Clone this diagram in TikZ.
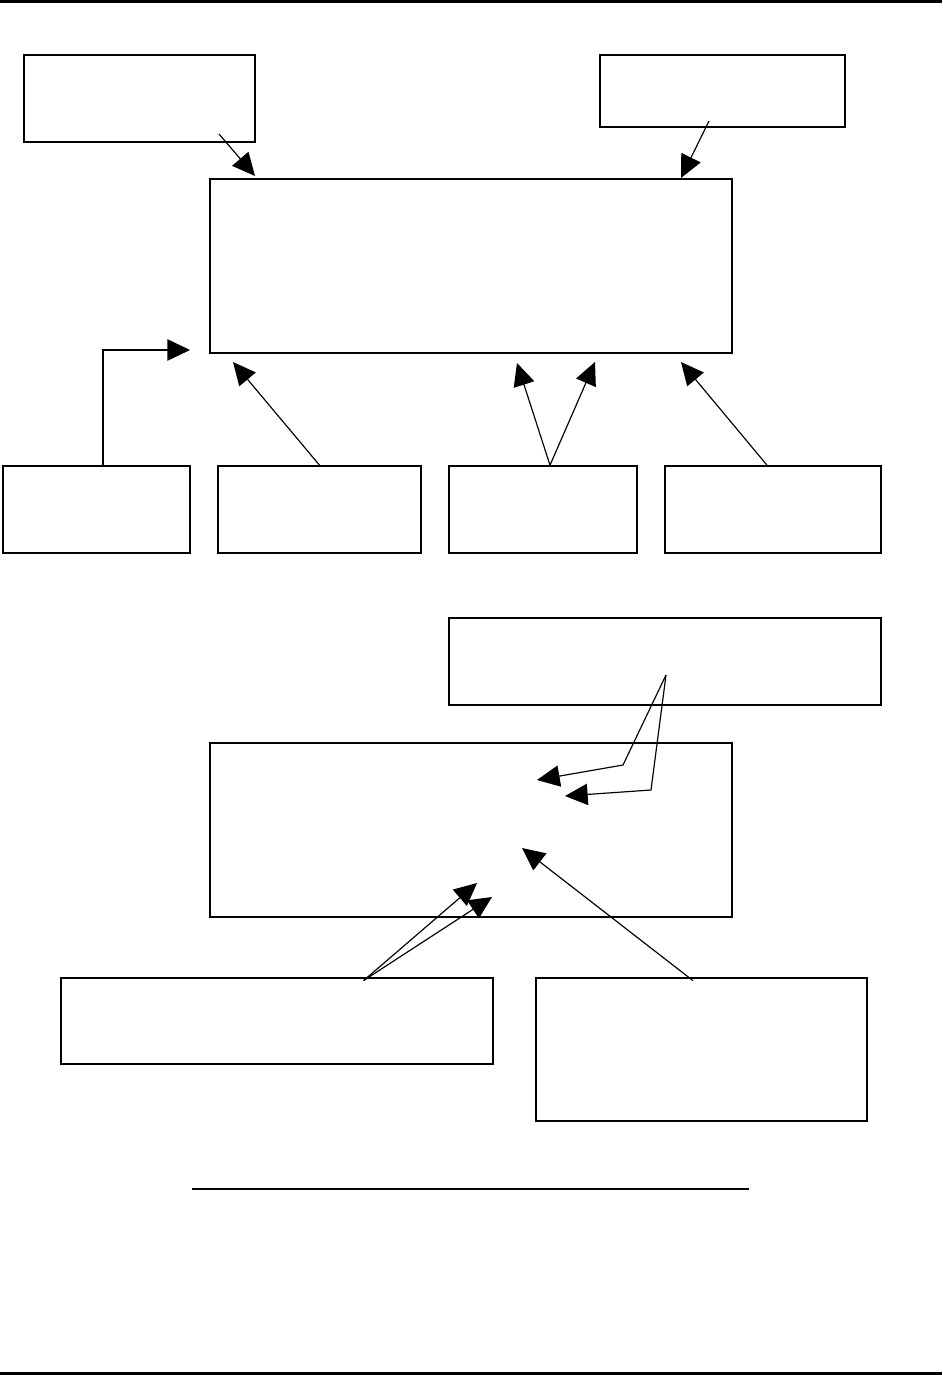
\documentclass[tikz,border=0pt]{standalone}
\usepackage{tikz}
\usetikzlibrary{arrows.meta, positioning, calc, fit}
\tikzset{
  fcbox/.style={rectangle, draw=black, line width=1.4pt, inner sep=0pt, fill=white},
  fcflow/.style={-{Triangle[length=0.68cm, width=0.64cm]}, line width=1pt, color=black},
  fcbar/.style={fill=black},
}
\begin{document}
\begin{tikzpicture}[x=0.03cm, y=-0.03cm]
  \useasboundingbox (0,0) rectangle (942,1375);
  \fill[fcbar] (0,0) rectangle (942,3);
  \fill[fcbar] (0,1372) rectangle (942,1375);
  % upper block
  \node[fcbox, fit={(24,55)(255,142)}](srcA){};
  \node[fcbox, fit={(600,55)(845,127)}](srcB){};
  \node[fcbox, fit={(210,179)(732,353)}](mainA){};
  \node[fcbox, fit={(3,466)(190,553)}](inA){};
  \node[fcbox, fit={(218,466)(421,553)}](inB){};
  \node[fcbox, fit={(449,466)(637,553)}](inC){};
  \node[fcbox, fit={(665,466)(881,553)}](inD){};
  % lower block
  \node[fcbox, fit={(449,618)(881,705)}](ctrl){};
  \node[fcbox, fit={(210,743)(732,917)}](mainB){};
  \node[fcbox, fit={(61,978)(493,1064)}](resA){};
  \node[fcbox, fit={(536,978)(867,1121)}](resB){};
  \draw[line width=1.2pt](192,1189)--(749,1189);
  % tips and bends
  \coordinate(pA) at (219,134);
  \coordinate(pB) at (709,121);
  \coordinate(tA) at (255,176);
  \coordinate(tB) at (681,178);
  \coordinate(tC) at (190,350);
  \coordinate(tD) at (233,362);
  \coordinate(tE) at (517,363);
  \coordinate(tF) at (595,362);
  \coordinate(tG) at (681,362);
  \coordinate(pC) at (666,675);
  \coordinate(bendB) at (623,765);
  \coordinate(bendC) at (651,790);
  \coordinate(tH) at (537,780);
  \coordinate(tI) at (565,796);
  \coordinate(tJ) at (477,883);
  \coordinate(tK) at (492,897);
  \coordinate(tL) at (522,848);
  % connectors
  \draw[fcflow](pA)--(tA);
  \draw[fcflow](pB)--(tB);
  \draw[fcflow, line width=1.4pt]([xshift=0.2cm]inA.north)|-(tC);
  \draw[fcflow](inB.north)--(tD);
  \draw[fcflow]([xshift=0.21cm]inC.north)--(tE);
  \draw[fcflow]([xshift=0.21cm]inC.north)--(tF);
  \draw[fcflow]([xshift=-0.18cm]inD.north)--(tG);
  \draw[fcflow](pC)--(bendB)--(tH);
  \draw[fcflow](pC)--(bendC)--(tI);
  \draw[fcflow]([xshift=2.6cm,yshift=-0.1cm]resA.north)--(tJ);
  \draw[fcflow]([xshift=2.6cm,yshift=-0.1cm]resA.north)--(tK);
  \draw[fcflow]([xshift=-0.26cm,yshift=-0.1cm]resB.north)--(tL);
\end{tikzpicture}
\end{document}
